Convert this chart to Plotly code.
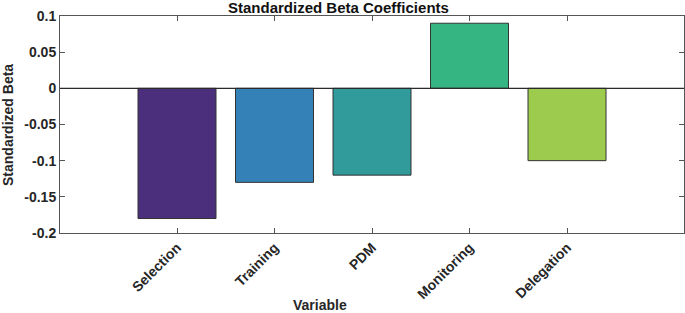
import plotly.graph_objects as go

categories = ["Selection", "Training", "PDM", "Monitoring", "Delegation"]
positions = [1, 2, 3, 4, 5]
beta = [-0.18, -0.13, -0.12, 0.09, -0.10]
colors = ["#4B2F7D", "#3381B6", "#319A9A", "#35B582", "#9CCB4E"]
yticks = [0.1, 0.05, 0, -0.05, -0.1, -0.15, -0.2]
yticklabels = ["0.1", "0.05", "0", "-0.05", "-0.1", "-0.15", "-0.2"]

W, H = 685, 313
L, R, T, B = 60, 1, 16, 80

fig = go.Figure()
fig.add_trace(go.Bar(
    x=positions, y=beta, width=0.8,
    marker=dict(color=colors, line=dict(color="#333333", width=1)),
))
fig.add_hline(y=0, line=dict(color="#2a2a2a", width=1.2))

font_family = "Liberation Sans, Arial, sans-serif"
fig.update_layout(
    width=W, height=H,
    margin=dict(l=L, r=R, t=T, b=B, autoexpand=False),
    plot_bgcolor="white", paper_bgcolor="white",
    showlegend=False,
    font=dict(family=font_family, color="#262626"),
)
fig.add_annotation(text="<b>Standardized Beta Coefficients</b>", xref="paper", yref="paper",
                   x=(338 - L) / (W - L - R), y=1 + (T - 7) / (H - T - B),
                   xanchor="center", yanchor="middle", showarrow=False,
                   font=dict(family=font_family, size=15, color="#111111"))
fig.add_annotation(text="<b>Variable</b>", xref="paper", yref="paper",
                   x=(320 - L) / (W - L - R), y=-(305 - (H - B)) / (H - T - B),
                   xanchor="center", yanchor="middle", showarrow=False,
                   font=dict(family=font_family, size=14, color="#262626"))
fig.add_annotation(text="<b>Standardized Beta</b>", xref="paper", yref="paper",
                   x=-(L - 8) / (W - L - R), y=(H - B - 125) / (H - T - B),
                   xanchor="center", yanchor="middle", showarrow=False, textangle=-90,
                   font=dict(family=font_family, size=14, color="#262626"))
fig.update_xaxes(
    range=[-0.2, 6.2], tickvals=positions,
    ticktext=["<b>%s</b>" % c for c in categories],
    tickangle=-45, tickfont=dict(size=14, color="#262626"),
    ticks="inside", ticklen=5, tickcolor="#555555",
    showline=True, linecolor="#555555", linewidth=1, mirror="ticks",
    showgrid=False, zeroline=False, automargin=False,
)
fig.update_yaxes(
    range=[-0.2, 0.1], tickvals=yticks,
    ticktext=["<b>%s</b>" % t for t in yticklabels],
    tickfont=dict(size=14, color="#262626"),
    ticks="inside", ticklen=5, tickcolor="#555555",
    showline=True, linecolor="#555555", linewidth=1, mirror="ticks",
    showgrid=False, zeroline=False, automargin=False,
)
fig.write_html("out.html", config={"displayModeBar": False},
               post_script="document.body.style.margin='0';document.body.style.overflow='hidden';")
